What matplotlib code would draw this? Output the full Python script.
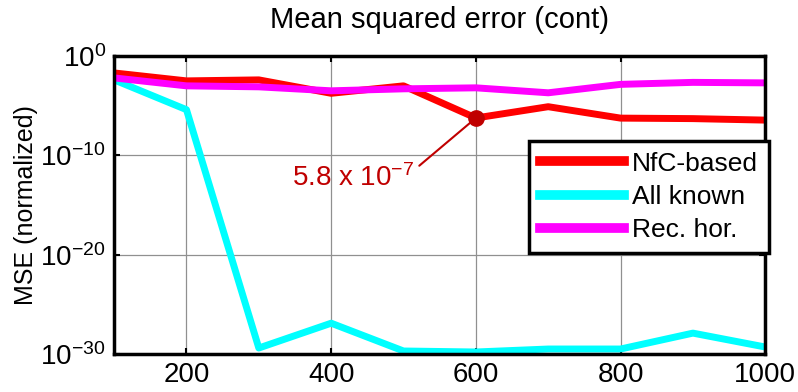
import numpy as np
import matplotlib
matplotlib.use("Agg")
import matplotlib.pyplot as plt

plt.rcParams['font.family'] = ['Liberation Sans', 'DejaVu Sans']
plt.rcParams['mathtext.fontset'] = 'custom'
plt.rcParams['mathtext.rm'] = 'Liberation Sans'
plt.rcParams['mathtext.it'] = 'Liberation Sans'
plt.rcParams['mathtext.default'] = 'regular'

# Data (log10 of MSE)
n_points = [100, 200, 300, 400, 500, 600, 700, 800, 900, 1000]
log_nfc = [-1.7, -2.5, -2.4, -3.75, -3.0, np.log10(5.8e-7), -5.1, -6.25, -6.3, -6.45]
log_all = [-2.4, -5.4, -29.4, -26.9, -29.7, -29.8, -29.5, -29.5, -27.9, -29.3]
log_rec = [-2.2, -3.0, -3.1, -3.5, -3.3, -3.2, -3.7, -2.85, -2.65, -2.7]
labels = ['NfC-based', 'All known', 'Rec. hor.']

mse_nfc = 10.0 ** np.array(log_nfc)
mse_all = 10.0 ** np.array(log_all)
mse_rec = 10.0 ** np.array(log_rec)

marker_x = 600
marker_y = 5.8e-7

fig = plt.figure(figsize=(7.98, 3.92), dpi=100)
ax = fig.add_axes([0.143, 0.097, 0.816, 0.760])

ax.plot(n_points, mse_nfc, color='#ff0000', linewidth=5, label=labels[0])
ax.plot(n_points, mse_all, color='#00ffff', linewidth=5, label=labels[1])
ax.plot(n_points, mse_rec, color='#ff00ff', linewidth=5, label=labels[2])
ax.plot([marker_x], [marker_y], 'o', color='#c00000', markersize=11, zorder=5)

ax.annotate('5.8 x 10$^{-7}$', xy=(marker_x, marker_y), xytext=(515, 10 ** -12.3),
            textcoords='data', ha='right', va='center', fontsize=20, color='#c00000',
            arrowprops=dict(arrowstyle='-', color='#c00000', lw=1.5,
                            shrinkA=2, shrinkB=0, relpos=(1.0, 0.8)))

ax.set_yscale('log')
ax.set_xlim(100, 1000)
ax.set_ylim(1e-30, 1e0)
ax.set_xticks([200, 400, 600, 800, 1000])
ax.set_yticks([1e-30, 1e-20, 1e-10, 1e0])
ax.set_yticklabels(['$10^{-30}$', '$10^{-20}$', '$10^{-10}$', '$10^{0}$'])
ax.minorticks_off()
ax.tick_params(axis='both', which='major', labelsize=20, direction='in', length=4,
               width=1.5, top=True, right=True, pad=6)
ax.grid(True, which='major', color='#909090', linestyle='-', linewidth=0.9)
for sp in ax.spines.values():
    sp.set_linewidth(2.5)

ax.set_title('Mean squared error (cont)', fontsize=21, pad=20)
ax.set_ylabel('MSE (normalized)', fontsize=18, labelpad=2)

leg = ax.legend(loc='upper right', bbox_to_anchor=(1.005, 0.715), fontsize=19,
                fancybox=False, framealpha=1, edgecolor='black', handlelength=3.2,
                borderaxespad=0, labelspacing=0.35, handletextpad=0.3,
                borderpad=0.4)
leg.get_frame().set_linewidth(2.5)
for line in leg.get_lines():
    line.set_linewidth(7)

fig.savefig('out.png', dpi=100)
